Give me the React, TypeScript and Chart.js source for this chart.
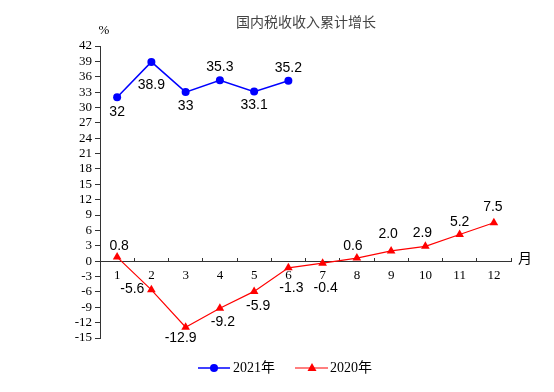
import React, { useEffect, useRef } from "react";
import { Chart, registerables } from "chart.js";

Chart.register(...registerables);

const months = ["1", "2", "3", "4", "5", "6", "7", "8", "9", "10", "11", "12"];
const values2021 = [32, 38.9, 33, 35.3, 33.1, 35.2, null, null, null, null, null, null];
const values2020 = [0.8, -5.6, -12.9, -9.2, -5.9, -1.3, -0.4, 0.6, 2.0, 2.9, 5.2, 7.5];
const labels2021 = ["32", "38.9", "33", "35.3", "33.1", "35.2"];
const labels2020 = ["0.8", "-5.6", "-12.9", "-9.2", "-5.9", "-1.3", "-0.4", "0.6", "2.0", "2.9", "5.2", "7.5"];
const yMin = -15;
const yMax = 42;
const yStep = 3;
const titleText = "国内税收收入累计增长";
const yUnit = "%";
const xUnit = "月";
const seriesNames = ["2021年", "2020年"];

// label placement offsets [dx, dy, align]
const offsets2021: [number, number, CanvasTextAlign][] = [
  [0, 15, "center"], [0, 23, "center"], [0, 14, "center"],
  [0, -13, "center"], [0, 14, "center"], [0, -13, "center"],
];
const offsets2020: [number, number, CanvasTextAlign][] = [
  [2, -11, "center"], [-7, -1, "right"], [-5, 11, "center"], [3, 14, "center"],
  [4, 15, "center"], [3, 20, "center"], [3, 25, "center"], [-4, -12, "center"],
  [-3, -17, "center"], [-3, -13, "center"], [0, -12, "center"], [-1, -16, "center"],
];

const BLUE = "#0000FF";
const RED = "#FF0000";
const AXIS = "#333333";

const overlayPlugin = {
  id: "overlay",
  afterDraw(chart: any) {
    const ctx = chart.ctx as CanvasRenderingContext2D;
    ctx.save();
    // data labels
    ctx.fillStyle = "#000";
    ctx.font = "14px 'Liberation Sans', Arial, sans-serif";
    ctx.textBaseline = "middle";
    const all = [
      { idx: 0, labels: labels2021, offs: offsets2021 },
      { idx: 1, labels: labels2020, offs: offsets2020 },
    ];
    all.forEach(({ idx, labels, offs }) => {
      const meta = chart.getDatasetMeta(idx);
      meta.data.forEach((el: any, i: number) => {
        if (i >= labels.length || el.skip) return;
        const [dx, dy, align] = offs[i];
        ctx.textAlign = align;
        ctx.fillText(labels[i], el.x + dx, el.y + dy);
      });
    });
    // title
    ctx.fillStyle = "#444";
    ctx.textAlign = "center";
    ctx.font = "14px 'Noto Sans CJK SC', sans-serif";
    ctx.fillText(titleText, 306, 22);
    // units
    ctx.fillStyle = "#000";
    ctx.font = "13px 'Liberation Serif', serif";
    ctx.fillText(yUnit, 104, 31);
    ctx.font = "14px 'Noto Sans CJK SC', sans-serif";
    ctx.textAlign = "left";
    ctx.fillText(xUnit, 518, 258);
    // legend
    const ly = 368;
    ctx.lineWidth = 1.5;
    ctx.strokeStyle = BLUE;
    ctx.beginPath();
    ctx.moveTo(198, ly);
    ctx.lineTo(230, ly);
    ctx.stroke();
    ctx.fillStyle = BLUE;
    ctx.beginPath();
    ctx.arc(214, ly, 4, 0, Math.PI * 2);
    ctx.fill();
    ctx.strokeStyle = RED;
    ctx.lineWidth = 1.2;
    ctx.beginPath();
    ctx.moveTo(295, ly);
    ctx.lineTo(328, ly);
    ctx.stroke();
    ctx.fillStyle = RED;
    ctx.beginPath();
    ctx.moveTo(312, ly - 5);
    ctx.lineTo(316.5, ly + 3);
    ctx.lineTo(307.5, ly + 3);
    ctx.closePath();
    ctx.fill();
    ctx.fillStyle = "#000";
    ctx.font = "14px 'Liberation Serif', 'Noto Sans CJK SC', serif";
    ctx.textAlign = "left";
    ctx.fillText(seriesNames[0], 233, ly);
    ctx.fillText(seriesNames[1], 330, ly);
    ctx.restore();
  },
};

export default function App() {
  const ref = useRef<HTMLCanvasElement>(null);
  useEffect(() => {
    if (!ref.current) return;
    const chart = new Chart(ref.current, {
      type: "line",
      data: {
        labels: months,
        datasets: [
          {
            label: seriesNames[0],
            data: values2021,
            borderColor: BLUE,
            backgroundColor: BLUE,
            borderWidth: 1.5,
            pointStyle: "circle",
            pointRadius: 4,
            pointBorderWidth: 0,
            spanGaps: false,
          },
          {
            label: seriesNames[1],
            data: values2020,
            borderColor: RED,
            backgroundColor: RED,
            borderWidth: 1.2,
            pointStyle: "triangle",
            pointRadius: 5,
            pointBorderWidth: 0,
          },
        ],
      },
      options: {
        responsive: false,
        animation: false,
        devicePixelRatio: 1,
        layout: { padding: { left: 0, right: 43, top: 46, bottom: 54 } },
        plugins: { legend: { display: false }, title: { display: false }, tooltip: { enabled: false } },
        scales: {
          x: {
            type: "category",
            position: { y: 0 } as any,
            offset: true,
            grid: { offset: true, drawOnChartArea: false, drawTicks: true, tickLength: -4, color: AXIS },
            border: { color: AXIS, width: 1 },
            ticks: {
              padding: 11,
              color: "#000",
              font: { family: "'Liberation Serif', serif", size: 13 },
              maxRotation: 0,
              autoSkip: false,
            },
          },
          y: {
            min: yMin,
            max: yMax,
            afterFit: (s: any) => { s.width = 100; },
            grid: { drawOnChartArea: false, drawTicks: true, tickLength: 5, color: AXIS },
            border: { color: AXIS, width: 1 },
            ticks: {
              stepSize: yStep,
              padding: 3,
              color: "#000",
              font: { family: "'Liberation Serif', serif", size: 13 },
              autoSkip: false,
            },
          },
        },
      },
      plugins: [overlayPlugin],
    });
    return () => chart.destroy();
  }, []);
  return (
    <div style={{ position: "fixed", left: 0, top: 0, width: 554, height: 392, background: "#fff" }}>
      <canvas ref={ref} width={554} height={392} />
    </div>
  );
}
